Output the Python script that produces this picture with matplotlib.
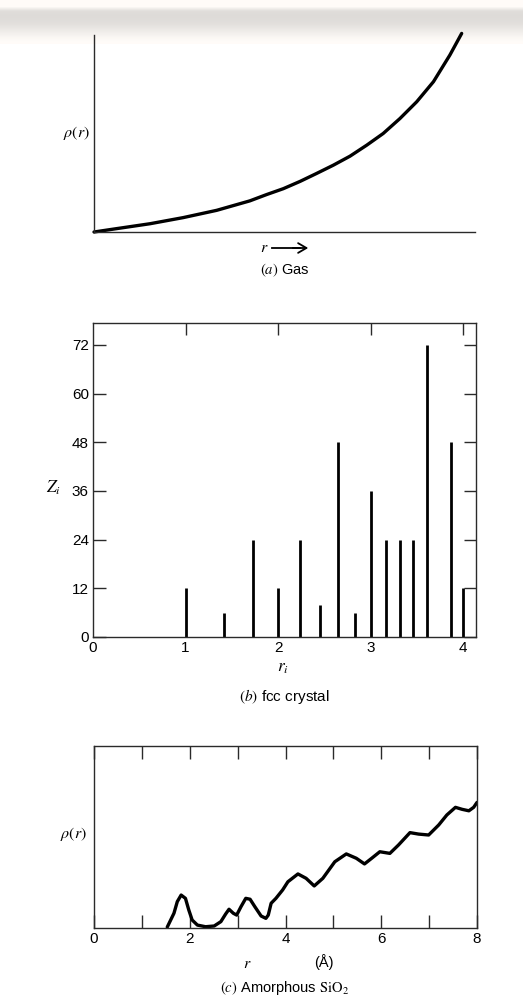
import numpy as np
import matplotlib
matplotlib.use("Agg")
import matplotlib.pyplot as plt

plt.rcParams['font.family'] = ['Liberation Sans', 'DejaVu Sans']
plt.rcParams['mathtext.fontset'] = 'stix'

# (a) gas: rho(r) rising curve, axes in arbitrary units
gas_r = [0.0, 0.059, 0.147, 0.234, 0.322, 0.409, 0.453, 0.497, 0.541, 0.584,
         0.628, 0.672, 0.716, 0.759, 0.803, 0.847, 0.891, 0.934, 0.965]
gas_rho = [0.0, 0.017, 0.042, 0.073, 0.110, 0.158, 0.190, 0.220, 0.257, 0.297,
           0.339, 0.385, 0.441, 0.500, 0.576, 0.661, 0.763, 0.898, 1.008]

# (b) fcc crystal: shell radius and coordination number
shell_r = [1.0, 1.414, 1.732, 2.0, 2.236, 2.449, 2.646, 2.828, 3.0, 3.162,
           3.317, 3.464, 3.606, 3.873, 4.0]
shell_z = [12, 6, 24, 12, 24, 8, 48, 6, 36, 24, 24, 24, 72, 48, 12]
z_ticks = [0, 12, 24, 36, 48, 60, 72]
ri_ticks = [0, 1, 2, 3, 4]

# (c) amorphous SiO2: rho(r), r in Angstrom
sio2_r = [1.53, 1.67, 1.74, 1.82, 1.91, 1.98, 2.05, 2.16, 2.33, 2.51, 2.65, 2.75,
          2.82, 2.91, 2.98, 3.07, 3.17, 3.26, 3.36, 3.49, 3.59, 3.64, 3.70, 3.80,
          3.94, 4.05, 4.26, 4.43, 4.60, 4.78, 5.03, 5.27, 5.48, 5.65, 5.80, 5.97,
          6.18, 6.36, 6.60, 6.78, 6.99, 7.20, 7.37, 7.55, 7.69, 7.83, 7.93, 8.0]
sio2_rho = [0.005, 0.081, 0.145, 0.181, 0.163, 0.099, 0.044, 0.016, 0.007, 0.011, 0.035, 0.077,
            0.103, 0.081, 0.071, 0.117, 0.163, 0.158, 0.117, 0.066, 0.053, 0.071, 0.136, 0.163,
            0.209, 0.254, 0.297, 0.273, 0.231, 0.273, 0.364, 0.407, 0.383, 0.352, 0.383, 0.419,
            0.410, 0.456, 0.524, 0.516, 0.511, 0.566, 0.621, 0.663, 0.652, 0.644, 0.663, 0.69]

W, H = 523, 998
fig = plt.figure(figsize=(W / 100, H / 100), dpi=100)


def box(left, top, right, bottom):
    return [left / W, 1 - bottom / H, (right - left) / W, (bottom - top) / H]


def ftext(x, y, s, **kw):
    fig.text(x / W, 1 - y / H, s, ha='center', va='center', **kw)


# scanned page band at the top
band = fig.add_axes([0, 1 - 44 / H, 1, 44 / H])
grad = np.array([1.0, 1.0, 0.88, 0.87, 0.875, 0.89, 0.92, 0.95, 0.98, 1.0])
band.imshow(np.dstack([grad, grad * 0.988, grad * 0.975]).reshape(-1, 1, 3).clip(0, 1),
            aspect='auto', interpolation='bilinear', extent=[0, 1, 0, 1])
band.axis('off')

spine_col = '#2a2a2a'

# ---- (a) Gas
ax1 = fig.add_axes(box(94, 35, 475, 232))
ax1.plot(gas_r, gas_rho, color='black', lw=2.4, clip_on=False,
         solid_capstyle='round', solid_joinstyle='round')
ax1.set_xlim(0, 1)
ax1.set_ylim(0, 1.0)
for s in ['top', 'right']:
    ax1.spines[s].set_visible(False)
for s in ['left', 'bottom']:
    ax1.spines[s].set_color(spine_col)
    ax1.spines[s].set_linewidth(1.0)
ax1.set_xticks([])
ax1.set_yticks([])
ax1.patch.set_alpha(0)
ftext(76, 133, r'$\rho(r)$', fontsize=11.5)
ftext(264, 247, r'$r$', fontsize=11.5)
fig.add_artist(plt.Line2D([272 / W, 300 / W], [1 - 248 / H] * 2, color='black', lw=1.3))
fig.patches.append(matplotlib.patches.FancyArrowPatch(
    (290 / W, 1 - 248 / H), (311 / W, 1 - 248 / H), transform=fig.transFigure,
    arrowstyle='->,head_length=6,head_width=3.5', color='black', lw=1.3))
ftext(285, 270, r'$(\mathit{a})$ Gas', fontsize=10.5)

# ---- (b) fcc crystal
ax2 = fig.add_axes(box(93, 323, 476, 637))
ax2.vlines(shell_r, 0, shell_z, color='black', lw=2.0)
ax2.set_xlim(0, 4.14)
ax2.set_ylim(0, 77.4)
ax2.set_yticks(z_ticks)
ax2.set_xticks(ri_ticks)
ax2.tick_params(axis='y', direction='in', length=9, width=1.0, right=True,
                labelsize=11, pad=3, color=spine_col)
ax2.tick_params(axis='x', direction='in', length=0, top=False, labelsize=11, pad=3)
for sp in ax2.spines.values():
    sp.set_color(spine_col)
    sp.set_linewidth(1.0)
sec = ax2.secondary_xaxis('top')
sec.set_xticks([1, 2, 3, 4])
sec.tick_params(direction='in', length=8.5, width=1.0, labeltop=False, color=spine_col)
sec.spines['top'].set_visible(False)
ftext(53, 488, r'$Z_i$', fontsize=12.5)
ftext(283, 668, r'$r_i$', fontsize=12.5)
ftext(284, 697, r'$(\mathit{b})$ fcc crystal', fontsize=11)

# ---- (c) Amorphous SiO2
ax3 = fig.add_axes(box(94, 746, 477, 928))
ax3.plot(sio2_r, sio2_rho, color='black', lw=2.4, solid_joinstyle='round',
         solid_capstyle='round')
ax3.set_xlim(0, 8)
ax3.set_ylim(0, 1)
ax3.set_xticks(range(0, 9))
ax3.set_xticklabels([str(v) if v % 2 == 0 else '' for v in range(0, 9)])
ax3.set_yticks([])
ax3.tick_params(axis='x', direction='in', length=9.5, width=1.0, top=True,
                labelsize=11, pad=3, color=spine_col)
for sp in ax3.spines.values():
    sp.set_color(spine_col)
    sp.set_linewidth(1.0)
ftext(73, 834, r'$\rho(r)$', fontsize=11.5)
ftext(247, 963, r'$r$', fontsize=11.5)
ftext(324, 962, '(Å)', fontsize=10.5)
ftext(285, 988, r'$(\mathit{c})$ Amorphous $\mathrm{SiO_2}$', fontsize=10.5)

fig.savefig('out.png', dpi=100)
